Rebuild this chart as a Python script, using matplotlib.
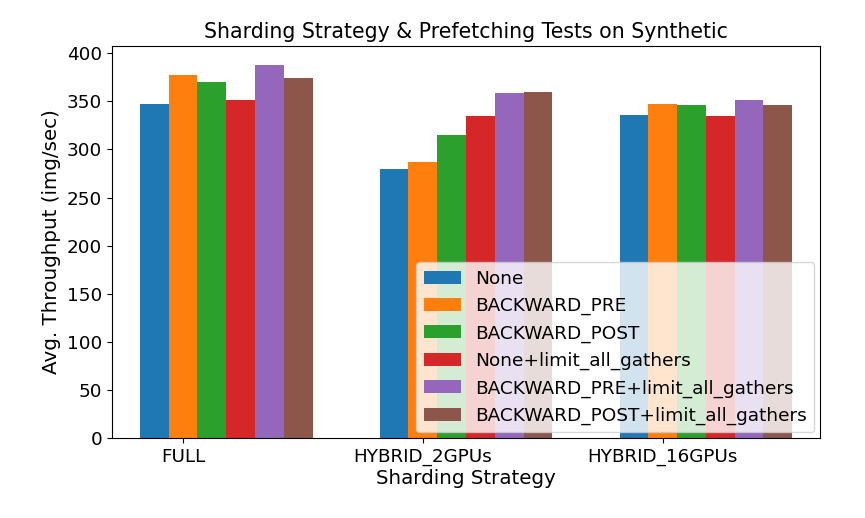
#!/usr/bin/env python3

from matplotlib import pyplot as plt
import numpy as np

strategies = ['FULL', 'HYBRID_2GPUs', 'HYBRID_16GPUs']
prefetch = ['None', 'BACKWARD_PRE', 'BACKWARD_POST', 'None+limit_all_gathers',
            'BACKWARD_PRE+limit_all_gathers', 'BACKWARD_POST+limit_all_gathers']

none_vals = [347, 280, 336]
bw_pre = [377, 287, 347]
bw_post = [370, 315, 346]
none_limit = [351, 335, 335]
bw_pre_limit = [388, 359, 351]
bw_post_limit = [374, 360, 346]


def main():
    series = [none_vals, bw_pre, bw_post, none_limit, bw_pre_limit, bw_post_limit]
    x = np.arange(len(strategies))
    width = 0.12

    fig = plt.figure(figsize=(8.65, 5.18), dpi=100)
    ax = fig.add_axes([0.1295, 0.1544, 0.8185, 0.7566])
    for i, vals in enumerate(series):
        ax.bar(x + i * width, vals, width, label=prefetch[i])

    ax.set_xticks(x + width)
    ax.set_xticklabels(strategies, fontsize=13.2)
    ax.tick_params(axis='y', labelsize=13.2)
    ax.set_xlim(-0.176, 2.776)
    ax.set_xlabel('Sharding Strategy', fontsize=14.3, labelpad=2)
    ax.set_ylabel('Avg. Throughput (img/sec)', fontsize=14.3)
    ax.set_title('Sharding Strategy & Prefetching Tests on Synthetic', fontsize=14.8)
    ax.legend(loc='lower right', fontsize=13.3, borderaxespad=0.3)
    fig.savefig('out.png')


if __name__ == '__main__':
    main()
